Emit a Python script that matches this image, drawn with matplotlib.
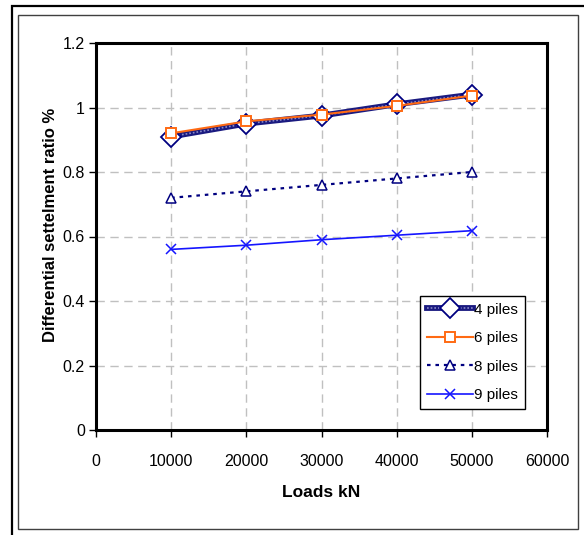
import matplotlib
matplotlib.use("Agg")
import matplotlib.pyplot as plt
from matplotlib.patches import Rectangle

plt.rcParams["font.family"] = ["Liberation Sans", "DejaVu Sans"]

# loads and differential settlement ratio for each pile group
loads = [10000, 20000, 30000, 40000, 50000]
piles_4 = [0.91, 0.95, 0.975, 1.01, 1.04]
piles_6 = [0.92, 0.957, 0.978, 1.005, 1.037]
piles_8 = [0.72, 0.74, 0.76, 0.78, 0.80]
piles_9 = [0.56, 0.573, 0.59, 0.604, 0.618]

x_ticks = [0, 10000, 20000, 30000, 40000, 50000, 60000]
y_ticks = [0, 0.2, 0.4, 0.6, 0.8, 1, 1.2]
y_tick_labels = ["0", "0.2", "0.4", "0.6", "0.8", "1", "1.2"]

W, H = 584, 535
fig = plt.figure(figsize=(W / 100, H / 100), dpi=100)
fig.patch.set_facecolor("white")

# outer frame (black) and inner chart area frame (grey)
fig.add_artist(Rectangle((12 / W, -0.05), 1.2, 1.05 - 6 / H, transform=fig.transFigure,
                         fill=False, edgecolor="black", lw=1.6))
fig.add_artist(Rectangle((18 / W, 1 - 529 / H), (578 - 18) / W, (529 - 15) / H,
                         transform=fig.transFigure, fill=False, edgecolor="#404040", lw=1.0))

ax = fig.add_axes([96 / W, 1 - 430 / H, (547 - 96) / W, (430 - 43) / H])

# 4 piles: thick patterned navy line
ax.plot(loads, piles_4, color="#1a1a80", lw=4.2, zorder=3)
ax.plot(loads, piles_4, color="#8a8ac8", lw=1.2, ls=(0, (1, 1.2)), zorder=3.1)
ax.plot(loads, piles_4, ls="none", marker="D", ms=10, mfc="white", mec="#000080",
        mew=1.3, zorder=4)
l6, = ax.plot(loads, piles_6, color="#ff6a13", lw=1.5, marker="s", ms=6.5,
              mfc="white", mec="#ff6a13", mew=1.4, zorder=5)
l8, = ax.plot(loads, piles_8, color="#000080", lw=1.6, ls=(0, (1.6, 2.2)), marker="^",
              ms=7, mfc="white", mec="#000080", mew=1.1, zorder=3)
l9, = ax.plot(loads, piles_9, color="#1515ff", lw=1.2, marker="x", ms=7,
              mec="#1515ff", mew=1.1, zorder=3)

# legend handles for 4 piles
h4a, = ax.plot([], [], color="#1a1a80", lw=4.2)
h4b, = ax.plot([], [], color="#8a8ac8", lw=1.2, ls=(0, (1, 1.2)), marker="D", ms=10,
               mfc="white", mec="#000080", mew=1.3)

leg = ax.legend([(h4a, h4b), l6, l8, l9], ["4 piles", "6 piles", "8 piles", "9 piles"],
                loc="lower right", bbox_to_anchor=(0.951, 0.054), fontsize=11,
                frameon=True, fancybox=False, framealpha=1, edgecolor="black",
                handlelength=3.0, handletextpad=0.1, borderpad=0.45, labelspacing=0.95,
                borderaxespad=0)
leg.get_frame().set_linewidth(1.0)

ax.set_xlim(0, 60000)
ax.set_ylim(0, 1.2)
ax.set_xticks(x_ticks)
ax.set_yticks(y_ticks)
ax.set_yticklabels(y_tick_labels)
ax.tick_params(axis="both", direction="out", length=5, width=1, labelsize=11.5,
               colors="black")
ax.tick_params(axis="x", pad=12)
ax.tick_params(axis="y", pad=3)

ax.grid(True, color="#c0c0c0", ls=(0, (6, 4)), lw=1.0)
ax.set_axisbelow(True)
for s in ax.spines.values():
    s.set_linewidth(2.2)
    s.set_color("black")

ax.set_xlabel("Loads kN", fontsize=12.5, fontweight="bold", labelpad=12)
ax.set_ylabel("Differential settelment ratio %", fontsize=12, fontweight="bold")
ax.yaxis.set_label_coords(-0.084, 0.53)

fig.savefig("out.png", dpi=100)
